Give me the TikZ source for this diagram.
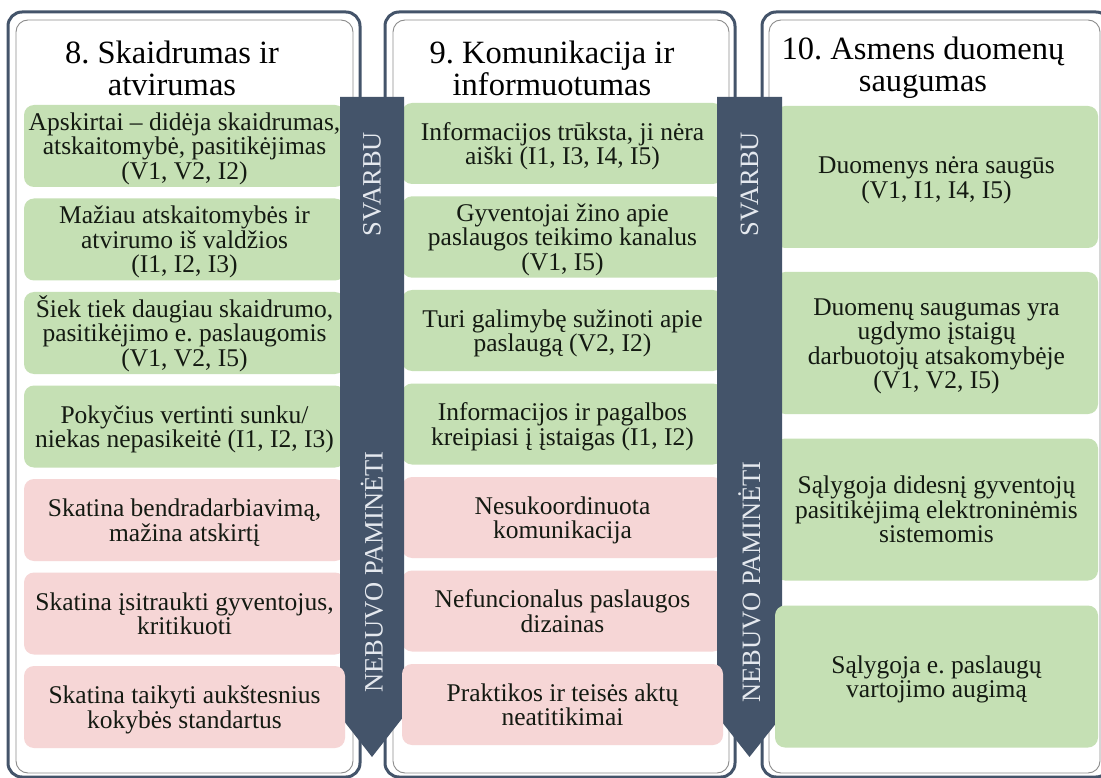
\documentclass[tikz,border=0pt]{standalone}
\usepackage{fontspec}
\setmainfont{Liberation Serif}
\frenchspacing
\definecolor{dk}{HTML}{44546A}
\definecolor{gf}{HTML}{C5E0B4}
\definecolor{pf}{HTML}{F6D6D6}
\definecolor{arrtxt}{HTML}{E4E8EE}
\definecolor{txt}{HTML}{141A12}
\newcommand\boxfont{\fontsize{25.5}{24.5}\selectfont}
\newcommand\titlefont{\fontsize{32.5}{32}\selectfont}
\newcommand\arrfont{\fontsize{26.5}{26}\selectfont}
\newcommand\tp{\rule{0pt}{25pt}}
\begin{document}
\begin{tikzpicture}[x=1pt,y=-1pt,
  outerframe/.style={draw=dk, line width=3pt, rounded corners=14pt, fill=white},
  innerframe/.style={draw=black!45, line width=0.9pt, rounded corners=12pt},
  basebox/.style={rounded corners=10pt, align=center, font=\boxfont, text=txt, inner sep=0pt},
  gbox/.style={basebox, fill=gf},
  pbox/.style={basebox, fill=pf},
  w1/.style={minimum width=321pt, minimum height=82pt},
  w2/.style={minimum width=321pt, minimum height=81pt},
  w3/.style={minimum width=323pt, minimum height=142pt},
  title/.style={align=center, font=\titlefont, text=black, inner sep=0pt},
  arrtext/.style={text=arrtxt, font=\arrfont, rotate=90, inner sep=0pt},
  bigarrow/.style={fill=dk, draw=none}
]
\useasboundingbox (0,0) rectangle (1101,778);

% panels
\draw[outerframe] (8,12) rectangle (360,777);
\draw[innerframe] (16,20) rectangle (353,773);
\draw[outerframe] (385,12) rectangle (735,777);
\draw[innerframe] (393,20) rectangle (729,773);
\draw[outerframe] (762,12) rectangle (1110,777);
\draw[innerframe] (769,20) rectangle (1100,773);

% titles
\node[title] (t1) at (172,68) {8. Skaidrumas ir\\atvirumas};
\node[title] (t2) at (552,68) {9. Komunikacija ir\\informuotumas};
\node[title] (t3) at (923,68) {10. Asmens duomenų\\saugumas};

% column 1 boxes
\node[gbox,w1] (a1) at (184.5,146) {\tp Apskirtai – didėja skaidrumas,\\atskaitomybė, pasitikėjimas\\(V1, V2, I2)\strut};
\node[gbox,w1] (a2) at (184.5,239.5) {\tp Mažiau atskaitomybės ir\\atvirumo iš valdžios\\(I1, I2, I3)\strut};
\node[gbox,w1] (a3) at (184.5,333) {\tp Šiek tiek daugiau skaidrumo,\\pasitikėjimo e. paslaugomis\\(V1, V2, I5)\strut};
\node[gbox,w1] (a4) at (184.5,426.5) {\tp Pokyčius vertinti sunku/\\niekas nepasikeitė (I1, I2, I3)\strut};
\node[pbox,w1] (a5) at (184.5,520) {\tp Skatina bendradarbiavimą,\\mažina atskirtį\strut};
\node[pbox,w1] (a6) at (184.5,613.5) {\tp Skatina įsitraukti gyventojus,\\kritikuoti\strut};

% column 2 boxes
\node[gbox,w2] (b1) at (562.5,143.5) {\tp Informacijos trūksta, ji nėra\\aiški (I1, I3, I4, I5)\strut};
\node[gbox,w2] (b2) at (562.5,237) {\tp Gyventojai žino apie\\paslaugos teikimo kanalus\\(V1, I5)\strut};
\node[gbox,w2] (b3) at (562.5,330.5) {\tp Turi galimybę sužinoti apie\\paslaugą (V2, I2)\strut};
\node[gbox,w2] (b4) at (562.5,424) {\tp Informacijos ir pagalbos\\kreipiasi į įstaigas (I1, I2)\strut};
\node[pbox,w2] (b5) at (562.5,517.5) {\tp Nesukoordinuota\\komunikacija\strut};
\node[pbox,w2] (b6) at (562.5,611) {\tp Nefuncionalus paslaugos\\dizainas\strut};

% column 3 boxes
\node[gbox,w3] (c1) at (936.5,177) {\tp Duomenys nėra saugūs\\(V1, I1, I4, I5)\strut};
\node[gbox,w3] (c2) at (936.5,343) {\tp Duomenų saugumas yra\\ugdymo įstaigų\\darbuotojų atsakomybėje\\(V1, V2, I5)\strut};
\node[gbox,w3] (c3) at (936.5,509.5) {\tp Sąlygoja didesnį gyventojų\\pasitikėjimą elektroninėmis\\sistemomis\strut};

% arrows
\path[bigarrow] (340,97) -- (404,97) -- (404,684) -- (429,684) -- (372,757) -- (315,684) -- (340,684) -- cycle;
\path[bigarrow] (717,97) -- (782,97) -- (782,684) -- (807,684) -- (749.5,757) -- (692,684) -- (717,684) -- cycle;
\node[arrtext] (s1) at (372,184) {SVARBU};
\node[arrtext] (n1) at (372,572) {NEBUVO PAMINĖTI};
\node[arrtext] (s2) at (749.5,184) {SVARBU};
\node[arrtext] (n2) at (749.5,582) {NEBUVO PAMINĖTI};

% last boxes (on top of arrow heads)
\node[pbox,w1] (a7) at (184.5,707) {\tp Skatina taikyti aukštesnius\\kokybės standartus\strut};
\node[pbox,w2] (b7) at (562.5,704.5) {\tp Praktikos ir teisės aktų\\neatitikimai\strut};
\node[gbox,w3] (c4) at (936.5,676.5) {\tp Sąlygoja e. paslaugų\\vartojimo augimą\strut};
\end{tikzpicture}
\end{document}
